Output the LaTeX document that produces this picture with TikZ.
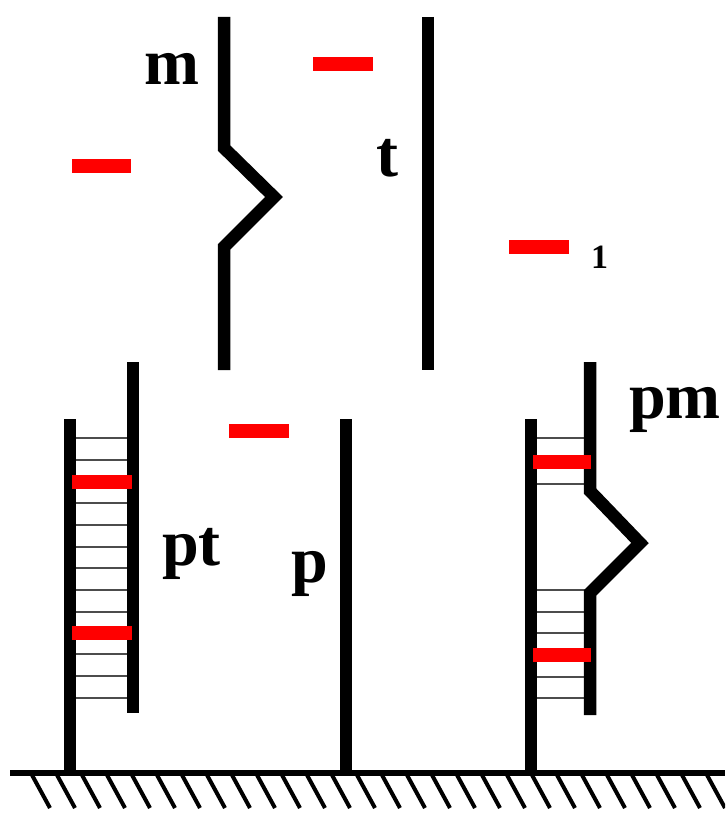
\documentclass[tikz,border=0pt]{standalone}
\usepackage{fontspec}
\setmainfont{Liberation Serif}
\begin{document}
\begin{tikzpicture}[x=1pt,y=-1pt,
  strand/.style={line width=12.5pt,line join=miter,miter limit=10},
  rung/.style={line width=2.2pt,black!70},
  redbar/.style={fill=red,draw=none},
  lbl/.style={inner sep=0pt,anchor=base west,font=\fontsize{66}{70}\selectfont\bfseries},
  hatch/.style={line width=4pt}]
\useasboundingbox (0,0) rectangle (725,813);
% top strands
\coordinate (m1) at (224,17);
\coordinate (m2) at (224,148);
\coordinate (m3) at (274,197);
\coordinate (m4) at (224,247);
\coordinate (m5) at (224,370);
\draw[strand] (m1) -- (m2) -- (m3) -- (m4) -- (m5);
\coordinate (t1) at (428,17);
\coordinate (t2) at (428,370);
\draw[strand] (t1) -- (t2);
% free red bars
\fill[redbar] (313,57) rectangle (373,71);
\fill[redbar] (72,159) rectangle (131,173);
\fill[redbar] (509,240) rectangle (569,254);
\fill[redbar] (229,424) rectangle (289,438);
% pt ladder rungs
\foreach \y in {438,459.7,503,525,547,568,590,612,654,676,698}
  \draw[rung] (70,\y) -- (133,\y);
\coordinate (a1) at (70,419);
\coordinate (a2) at (70,772);
\draw[strand] (a1) -- (a2);
\coordinate (b1) at (133,362);
\coordinate (b2) at (133,713);
\draw[strand] (b1) -- (b2);
\fill[redbar] (72,475) rectangle (132,489);
\fill[redbar] (72,626) rectangle (132,640);
% p strand
\coordinate (p1) at (346,419);
\coordinate (p2) at (346,772);
\draw[strand] (p1) -- (p2);
% pm ladder
\foreach \y in {438,484,590,612,633,677,698}
  \draw[rung] (531,\y) -- (590,\y);
\coordinate (c1) at (531,419);
\coordinate (c2) at (531,772);
\draw[strand] (c1) -- (c2);
\coordinate (d1) at (590,362);
\coordinate (d2) at (590,491);
\coordinate (d3) at (640,543);
\coordinate (d4) at (590,593);
\coordinate (d5) at (590,715);
\draw[strand] (d1) -- (d2) -- (d3) -- (d4) -- (d5);
\fill[redbar] (533,455) rectangle (591,469);
\fill[redbar] (533,648) rectangle (591,662);
% ground
\coordinate (g1) at (10,772.5);
\coordinate (g2) at (725,772.5);
\draw[line width=6pt] (g1) -- (g2);
\begin{scope}
\clip (0,775) rectangle (725,813);
\foreach \i in {0,...,27}
  \draw[hatch] (32+25*\i,775) -- (50+25*\i,808);
\end{scope}
% labels
\node[lbl] (lm) at (144,85) {m};
\node[lbl] (lt) at (376,177) {t};
\node[lbl] (lpt) at (162,565) {pt};
\node[lbl] (lp) at (291,582) {p};
\node[lbl] (lpm) at (629,418) {pm};
\node[inner sep=0pt,anchor=base west,font=\fontsize{34}{36}\selectfont\bfseries] (l1) at (591,268) {1};
\end{tikzpicture}
\end{document}
